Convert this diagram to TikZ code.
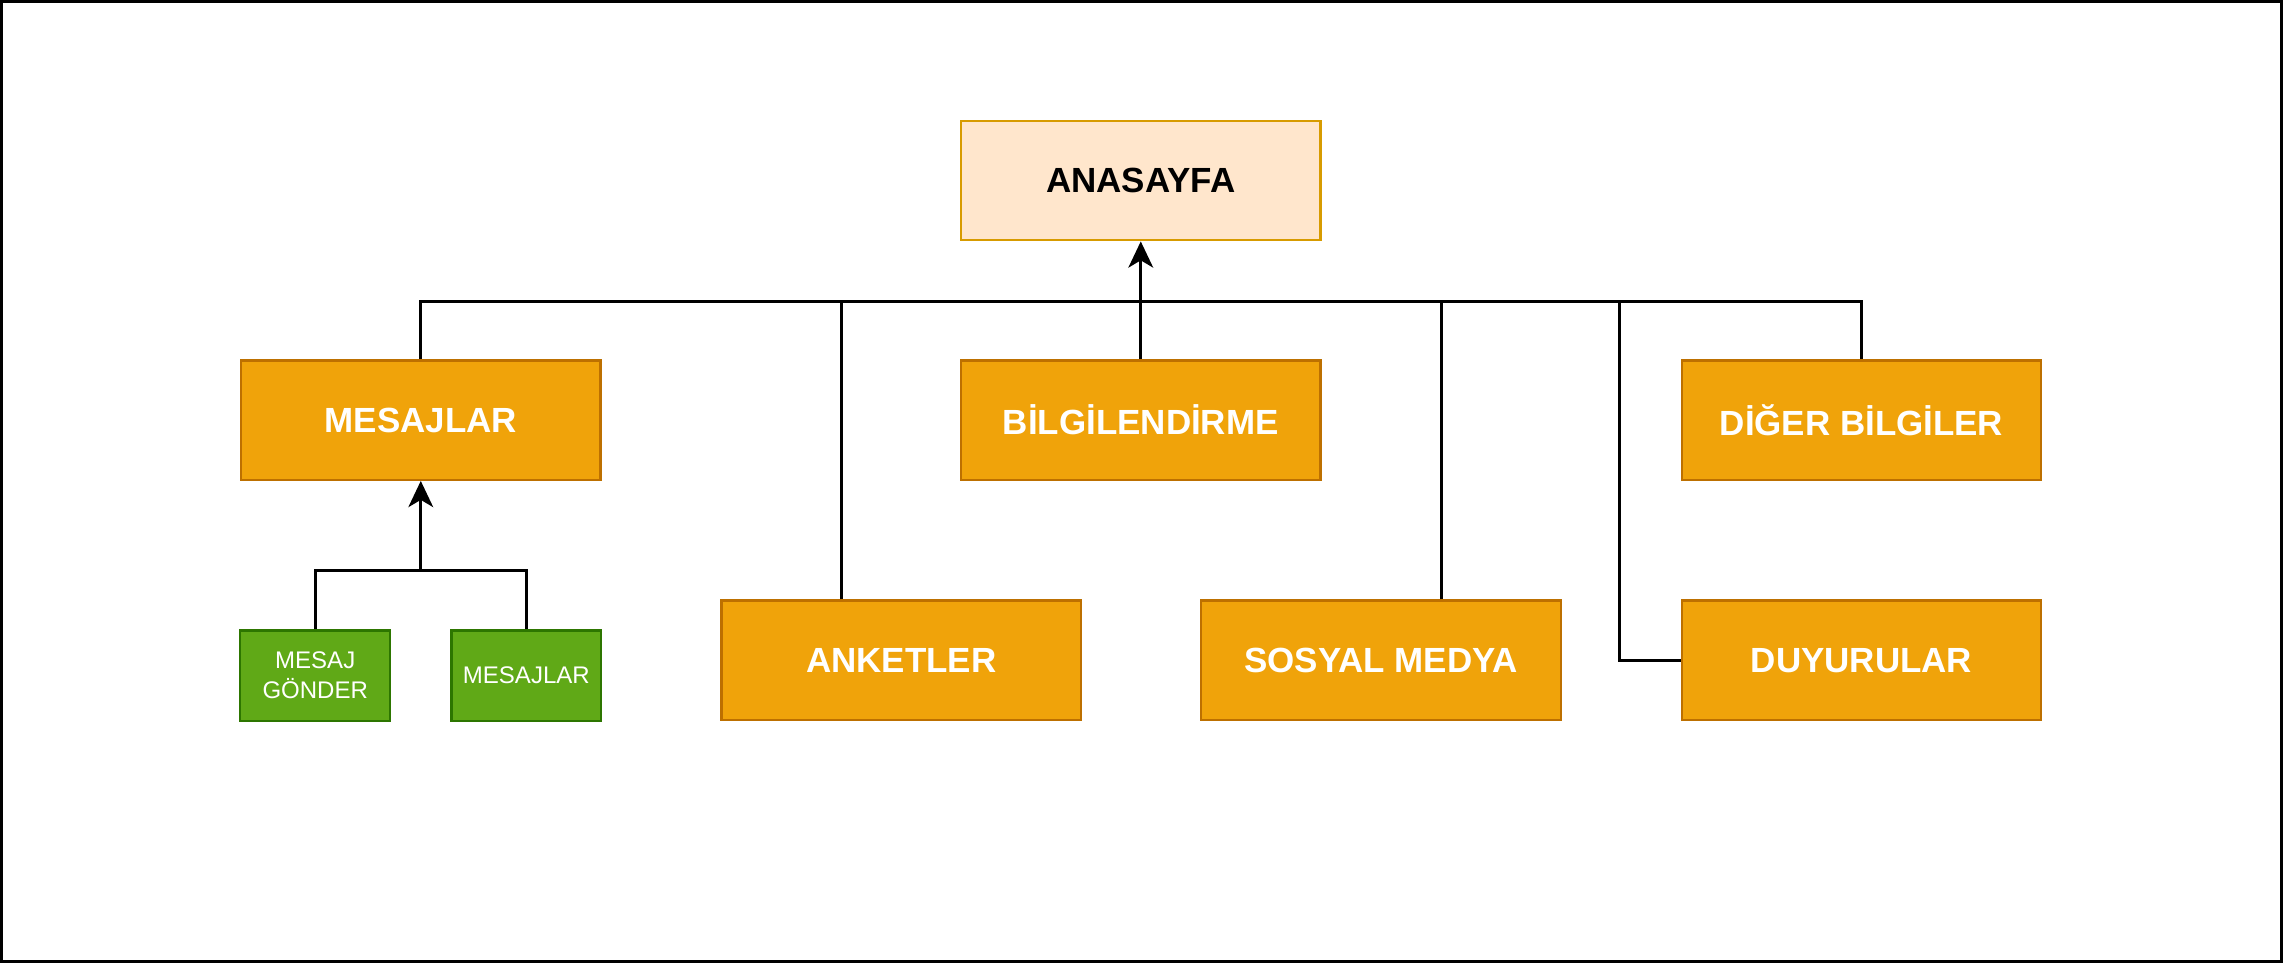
\documentclass[tikz,border=0pt]{standalone}
\usepackage{fontspec}
\setmainfont{Liberation Sans}
\usetikzlibrary{arrows.meta}
\definecolor{anaDolgu}{HTML}{FFE6CC}
\definecolor{anaCizgi}{HTML}{D79B00}
\definecolor{turuncu}{HTML}{F0A30A}
\definecolor{turuncuCizgi}{HTML}{BD7000}
\definecolor{yesil}{HTML}{60A917}
\definecolor{yesilCizgi}{HTML}{2D7600}

\begin{document}
\begin{tikzpicture}[x=1pt,y=-1pt,
	kutu/.style={draw=turuncuCizgi,fill=turuncu,line width=1.6pt,minimum width=247pt,minimum height=82pt,inner sep=0pt,text=white,font=\fontsize{24}{29}\selectfont\bfseries},
	anakutu/.style={kutu,draw=anaCizgi,fill=anaDolgu,text=black},
	altkutu/.style={draw=yesilCizgi,fill=yesil,line width=1.6pt,minimum width=103pt,minimum height=62pt,inner sep=0pt,text=white,align=center,font=\fontsize{16.5}{20.6}\selectfont},
	hat/.style={line width=1.9pt},
	ok/.style={hat,-{Stealth[length=18pt,width=17pt,inset=5pt]}}]
	\useasboundingbox (0,0) rectangle (1568,661.4);
	\draw[line width=2pt] (1,1) rectangle (1567,660.4);
	\node[anakutu] (ana) at (783.5,124) {ANASAYFA};
	\node[kutu] (mesajlar) at (289,288.5) {MESAJLAR};
	\node[kutu] (bilgi) at (783.5,288.5) {BİLGİLENDİRME};
	\node[kutu] (diger) at (1278.5,288.5) {DİĞER BİLGİLER};
	\node[kutu] (anket) at (619,453.5) {ANKETLER};
	\node[kutu] (sosyal) at (948.5,453.5) {SOSYAL MEDYA};
	\node[kutu] (duyuru) at (1278.5,453.5) {DUYURULAR};
	\node[altkutu] (gonder) at (216.5,464) {MESAJ\\GÖNDER};
	\node[altkutu] (mesajlist) at (361.5,464) {MESAJLAR};
	\coordinate (bus) at (783.5,207);
	\coordinate (altbus) at (289,392);
	\draw[hat] (mesajlar.north) |- (bus);
	\draw[hat] (diger.north) |- (bus);
	\draw[hat] ([xshift=-41pt]anket.north) |- (bus);
	\draw[hat] ([xshift=41.5pt]sosyal.north) |- (bus);
	\draw[hat] (duyuru.west) -- ++(-42,0) |- (bus);
	\draw[ok] (bilgi.north) -- (ana.south);
	\draw[hat] (gonder.north) |- (altbus);
	\draw[hat] (mesajlist.north) |- (altbus);
	\draw[ok] (altbus) -- (mesajlar.south);
\end{tikzpicture}
\end{document}
